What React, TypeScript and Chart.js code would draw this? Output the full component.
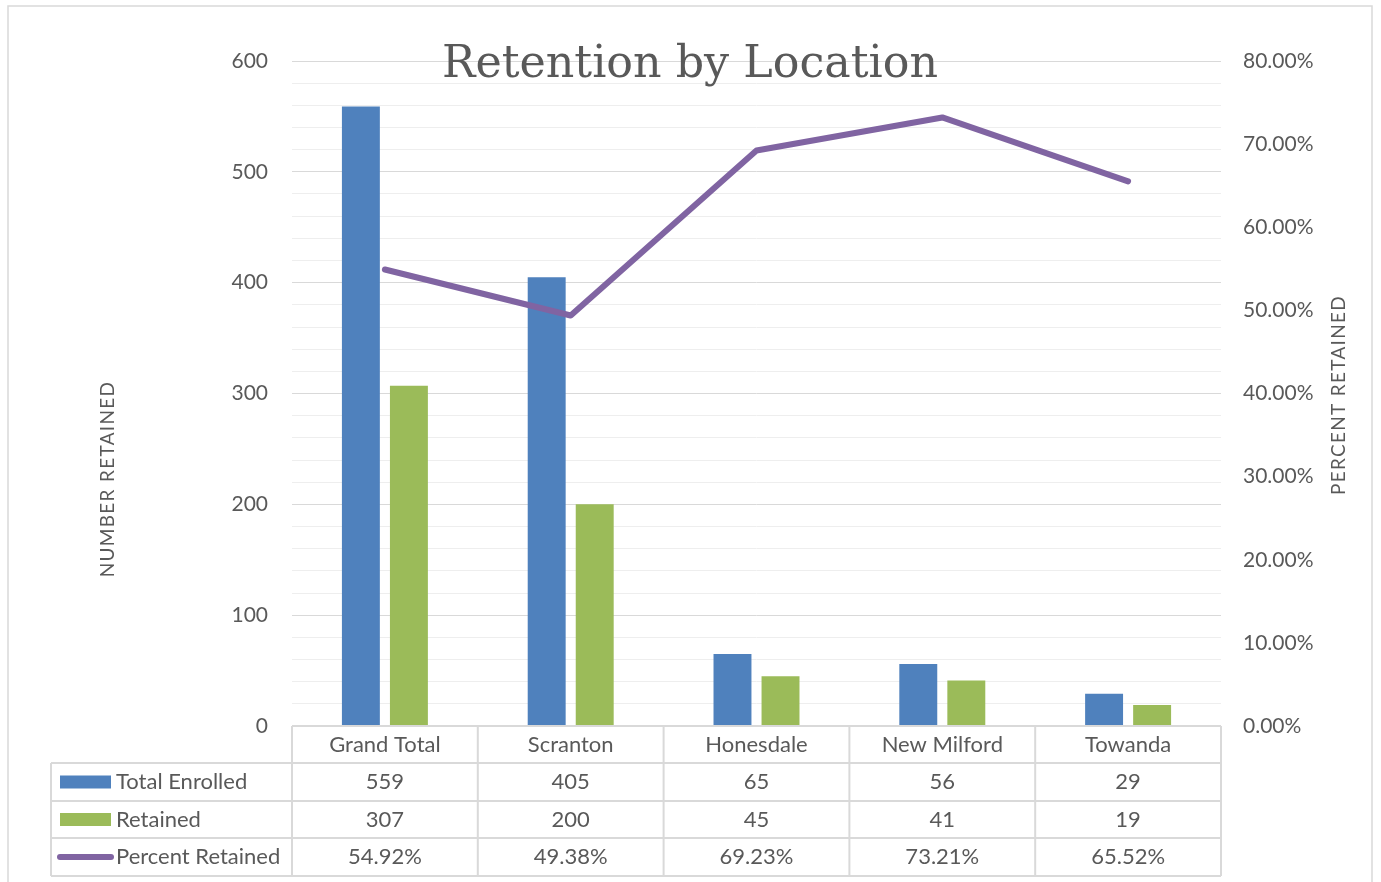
import React, { useEffect, useRef } from 'react';
import { Chart, registerables } from 'chart.js';

Chart.register(...registerables);

const categories = ['Grand Total', 'Scranton', 'Honesdale', 'New Milford', 'Towanda'];
const seriesNames = ['Total Enrolled', 'Retained', 'Percent Retained'];
const totalEnrolled = [559, 405, 65, 56, 29];
const retained = [307, 200, 45, 41, 19];
const percentRetained = [0.5492, 0.4938, 0.6923, 0.7321, 0.6552];

const chartTitle = 'Retention by Location';
const leftAxisTitle = 'NUMBER RETAINED';
const rightAxisTitle = 'PERCENT RETAINED';

const BLUE = '#4f81bd';
const GREEN = '#9bbb59';
const PURPLE = '#8064a2';
const TEXT = '#595959';
const GRID = '#d9d9d9';
const GRID_MINOR = '#eeeeee';
const FONT = 'Lato, "Open Sans", sans-serif';

const fmtPct = (v: number) => (v * 100).toFixed(2) + '%';

const decorPlugin = {
  id: 'decor',
  beforeDraw(chart: any) {
    const ctx = chart.ctx;
    ctx.save();
    ctx.fillStyle = '#ffffff';
    ctx.fillRect(0, 0, chart.width, chart.height);
    ctx.strokeStyle = GRID;
    ctx.lineWidth = 1.5;
    ctx.strokeRect(8, 6, 1364, 900);
    ctx.restore();
  },
  afterDraw(chart: any) {
    const ctx = chart.ctx;
    const { left: L, right: R, bottom: B } = chart.chartArea;
    const n = categories.length;
    const colW = (R - L) / n;
    const rows = [B, 763, 801, 838, 876];
    const tableLeft = 51;
    ctx.save();

    // Title
    ctx.fillStyle = TEXT;
    let size = 52;
    ctx.font = `${size}px "DejaVu Serif", "Liberation Serif", serif`;
    const w = ctx.measureText(chartTitle).width;
    size = size * 496 / w;
    ctx.font = `${size}px "DejaVu Serif", "Liberation Serif", serif`;
    ctx.textAlign = 'center';
    ctx.textBaseline = 'alphabetic';
    ctx.fillText(chartTitle, 690, 77);

    // Axis titles
    ctx.font = `19px ${FONT}`;
    (ctx as any).letterSpacing = '1.3px';
    ctx.textBaseline = 'middle';
    ctx.save();
    ctx.translate(108, 479);
    ctx.rotate(-Math.PI / 2);
    ctx.fillText(leftAxisTitle, 0, 0);
    ctx.restore();
    ctx.save();
    ctx.translate(1339, 395);
    ctx.rotate(-Math.PI / 2);
    ctx.fillText(rightAxisTitle, 0, 0);
    ctx.restore();
    (ctx as any).letterSpacing = '0px';

    // Table grid
    ctx.strokeStyle = GRID;
    ctx.lineWidth = 2;
    ctx.beginPath();
    ctx.moveTo(L, rows[0]);
    ctx.lineTo(R, rows[0]);
    for (let r = 1; r < rows.length; r++) {
      ctx.moveTo(tableLeft, rows[r]);
      ctx.lineTo(R, rows[r]);
    }
    ctx.moveTo(tableLeft, rows[1]);
    ctx.lineTo(tableLeft, rows[4]);
    for (let i = 0; i <= n; i++) {
      const x = L + i * colW;
      ctx.moveTo(x, rows[0]);
      ctx.lineTo(x, rows[4]);
    }
    ctx.stroke();

    // Table text
    ctx.fillStyle = TEXT;
    ctx.font = `22px ${FONT}`;
    ctx.textAlign = 'center';
    ctx.textBaseline = 'middle';
    const rowMid = (r: number) => (rows[r] + rows[r + 1]) / 2;
    const tableRows = [
      categories,
      totalEnrolled.map(String),
      retained.map(String),
      percentRetained.map(fmtPct),
    ];
    tableRows.forEach((row, r) => {
      row.forEach((txt, i) => {
        const cx = chart.scales.x.getPixelForValue(i);
        ctx.fillText(txt, cx, rowMid(r));
      });
    });

    // Legend keys
    ctx.fillStyle = BLUE;
    ctx.fillRect(60, rowMid(1) - 6.5, 51, 13);
    ctx.fillStyle = GREEN;
    ctx.fillRect(60, rowMid(2) - 6.5, 51, 13);
    ctx.strokeStyle = PURPLE;
    ctx.lineWidth = 6;
    ctx.lineCap = 'round';
    ctx.beginPath();
    ctx.moveTo(60, rowMid(3));
    ctx.lineTo(111, rowMid(3));
    ctx.stroke();

    ctx.fillStyle = TEXT;
    ctx.textAlign = 'left';
    seriesNames.forEach((name, k) => {
      ctx.fillText(name, 116, rowMid(k + 1));
    });
    ctx.restore();
  },
};

export default function App() {
  const ref = useRef<HTMLCanvasElement | null>(null);
  useEffect(() => {
    if (!ref.current) return;
    const chart = new Chart(ref.current, {
      type: 'bar',
      data: {
        labels: categories,
        datasets: [
          {
            type: 'line',
            label: seriesNames[2],
            data: percentRetained,
            yAxisID: 'y1',
            borderColor: PURPLE,
            backgroundColor: PURPLE,
            borderWidth: 6,
            pointRadius: 0,
            borderCapStyle: 'round',
            borderJoinStyle: 'round',
            tension: 0,
            order: 0,
          } as any,
          {
            label: seriesNames[0],
            data: totalEnrolled,
            backgroundColor: BLUE,
            yAxisID: 'y',
            categoryPercentage: 0.517,
            barPercentage: 0.79,
            order: 1,
          },
          {
            label: seriesNames[1],
            data: retained,
            backgroundColor: GREEN,
            yAxisID: 'y',
            categoryPercentage: 0.517,
            barPercentage: 0.79,
            order: 2,
          },
        ],
      },
      options: {
        responsive: false,
        animation: false,
        layout: { padding: { left: 0, right: 0, top: 61, bottom: 156 } },
        plugins: {
          legend: { display: false },
          tooltip: { enabled: false },
          title: { display: false },
        },
        scales: {
          x: {
            display: false,
            offset: true,
            grid: { display: false },
          },
          y: {
            position: 'left',
            min: 0,
            max: 600,
            afterFit: (s: any) => { s.width = 292; },
            border: { display: false },
            grid: {
              drawTicks: false,
              lineWidth: 1,
              color: (c: any) => (c.tick && c.tick.value % 100 === 0 ? GRID : GRID_MINOR),
            },
            ticks: {
              stepSize: 20,
              autoSkip: false,
              padding: 24,
              color: TEXT,
              font: { family: FONT, size: 21 },
              callback: (v: any) => (Number(v) % 100 === 0 ? String(v) : ''),
            },
          },
          y1: {
            position: 'right',
            min: 0,
            max: 0.8,
            afterFit: (s: any) => { s.width = 160; },
            border: { display: false },
            grid: { display: false, drawTicks: false },
            ticks: {
              stepSize: 0.1,
              autoSkip: false,
              padding: 22,
              color: TEXT,
              font: { family: FONT, size: 21 },
              callback: (v: any) => fmtPct(Number(v)),
            },
          },
        },
      },
      plugins: [decorPlugin],
    } as any);
    return () => chart.destroy();
  }, []);
  return (
    <div style={{ position: 'fixed', left: 0, top: 0, width: 1381, height: 882, background: '#fff' }}>
      <canvas ref={ref} width={1381} height={882} style={{ display: 'block' }} />
    </div>
  );
}
